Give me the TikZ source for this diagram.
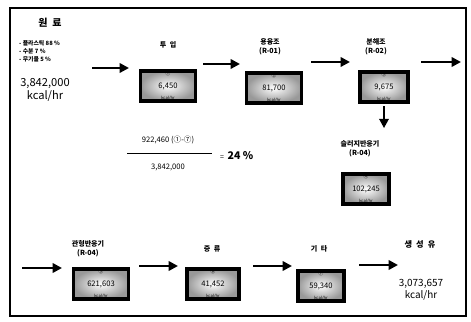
\documentclass[tikz,border=0pt]{standalone}
\usepackage{fontspec}
\setmainfont{Noto Sans CJK KR}
\usetikzlibrary{arrows.meta}

\begin{document}
\begin{tikzpicture}[x=0.3mm, y=-0.3mm, every node/.style={font=\fontsize{6}{7}\selectfont, inner sep=0pt},
	flow/.style={line width=2pt, -{Triangle[length=2.8mm, width=2.8mm]}},
	tank/.style={draw=black, line width=3.2pt, inner color=white, outer color=gray!80, minimum width=16.5mm, minimum height=8.8mm, font=\fontsize{6.5}{7}\selectfont},
	title/.style={font=\bfseries\fontsize{6}{7.5}\selectfont, align=center},
	tag/.style={font=\fontsize{4}{4}\selectfont},
	unit/.style={font=\fontsize{3.5}{4}\selectfont}]
	\useasboundingbox (0,0) rectangle (471,322);
	\draw[line width=0.9pt] (10,8) rectangle (466,316);
	% raw material
	\node[font=\bfseries\fontsize{8.5}{9}\selectfont] (src) at (50,23) {원\enspace 료};
	\node[anchor=west, align=left, font=\bfseries\fontsize{5}{6.8}\selectfont] (mix) at (19,51) {- 플라스틱 88 \%\\- 수분 7 \%\\- 무기물 5 \%};
	\node[font=\fontsize{9.5}{11}\selectfont, align=center] (heat) at (45,90) {3,842,000\\kcal/hr};
	% top row
	\node[title] (t1) at (168,45) {투\enspace 입};
	\node[tank] (b1) at (168,86) {6,450};
	\node[title] (t2) at (270,47) {용융조\\(R-01)};
	\node[tank] (b2) at (274,88) {81,700};
	\node[title] (t3) at (376,47) {분해조\\(R-02)};
	\node[tank, minimum width=14.5mm] (b3) at (384,87) {9,675};
	\node[title] (t4) at (360,149) {슬러지반응기\\(R-04)};
	\node[tank, minimum width=14mm] (b4) at (366,189) {102,245};
	% bottom row
	\node[title] (t5) at (88,249) {관형반응기\\(R-04)};
	\node[tank] (b5) at (101,284) {621,603};
	\node[title] (t6) at (212,249) {증\enspace 류};
	\node[tank, minimum width=15.5mm] (b6) at (213,284) {41,452};
	\node[title] (t7) at (319,249) {기\enspace 타};
	\node[tank, minimum width=14mm] (b7) at (321,286) {59,340};
	\node[font=\bfseries\fontsize{7}{8}\selectfont] (out) at (420,244) {생\enspace 성\enspace 유};
	\node[font=\fontsize{8.5}{10.5}\selectfont, align=center] (oil) at (421,290) {3,073,657\\kcal/hr};
	% circled numbers and units inside the boxes
	\foreach \b/\n in {b1/①, b2/②, b3/③, b4/④, b5/⑤, b6/⑥, b7/⑦} {
		\node[tag, anchor=north] at ([yshift=-1.6pt]\b.north) {\n};
		\node[unit, anchor=south] at ([yshift=1.6pt]\b.south) {kcal/hr};
	}
	% efficiency
	\node[font=\fontsize{6.5}{7}\selectfont] (num) at (168,140) {922,460 (①-⑦)};
	\node[font=\fontsize{6.5}{7}\selectfont] (den) at (168,167) {3,842,000};
	\coordinate (barl) at (127,153);
	\coordinate (barr) at (212,153);
	\draw[line width=0.6pt] (barl) -- (barr);
	\node[anchor=west] (eff) at (220,156) {=\enspace\bfseries\fontsize{9}{10}\selectfont 24 \%};
	% arrows
	\coordinate (a1) at (92,68);  \coordinate (a2) at (129,68);
	\coordinate (a3) at (203,64); \coordinate (a4) at (240,64);
	\coordinate (a5) at (311,62); \coordinate (a6) at (350,62);
	\coordinate (a7) at (421,62); \coordinate (a8) at (461,62);
	\coordinate (c1) at (22,268); \coordinate (c2) at (62,268);
	\coordinate (c3) at (139,266); \coordinate (c4) at (178,266);
	\coordinate (c5) at (253,266); \coordinate (c6) at (292,266);
	\coordinate (c7) at (359,265); \coordinate (c8) at (398,265);
	\coordinate (d1) at ([yshift=-2.5pt]b3.south);
	\coordinate (d2) at ([yshift=-21pt]b3.south);
	\foreach \a/\b in {a1/a2, a3/a4, a5/a6, a7/a8, c1/c2, c3/c4, c5/c6, c7/c8, d1/d2} {\draw[flow] (\a) -- (\b);}
\end{tikzpicture}
\end{document}
